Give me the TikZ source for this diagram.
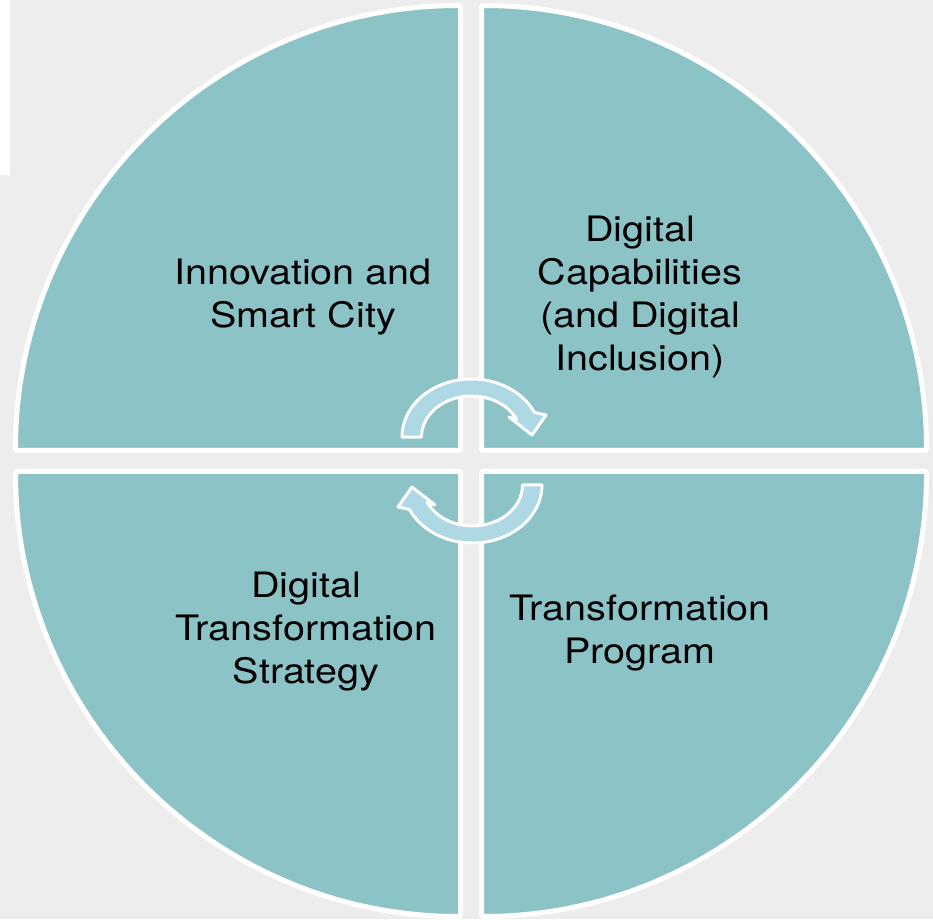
\documentclass[tikz,border=0pt]{standalone}
\usepackage{fontspec}
\setmainfont{TeX Gyre Heros}[FakeStretch=1.13]
\definecolor{bgcol}{HTML}{EDEDED}
\definecolor{quadcol}{HTML}{8CC3C6}
\definecolor{arrowcol}{HTML}{ADD8E4}
\begin{document}
\begin{tikzpicture}[x=1pt,y=1pt,
  quadrant/.style={fill=quadcol, draw=white, line width=5pt, rounded corners=2pt},
  cyclearrow/.style={fill=arrowcol, draw=white, line width=3pt, line join=round},
  quadtext/.style={align=center, inner sep=0pt, font=\fontsize{35}{43}\selectfont, text=black}]
\fill[bgcol] (0,0) rectangle (933,919);
\useasboundingbox (0,0) rectangle (933,919);
\fill[white] (0,744) rectangle (10,919);
% quadrants
\draw[quadrant] (460.5,468.5) -- ++(-445,0) arc[start angle=180,end angle=90,radius=445] -- cycle;
\draw[quadrant] (481.5,468.5) -- ++(0,445) arc[start angle=90,end angle=0,radius=445] -- cycle;
\draw[quadrant] (460.5,447.5) -- ++(0,-445) arc[start angle=270,end angle=180,radius=445] -- cycle;
\draw[quadrant] (481.5,447.5) -- ++(445,0) arc[start angle=0,end angle=-90,radius=445] -- cycle;
% cycle arrows
\path[cyclearrow] (402,482) arc[start angle=180,end angle=25,x radius=69.5,y radius=58]
  -- (546,504) -- (532,484) -- (509,502) -- (516.8,499.3)
  arc[start angle=25,end angle=180,x radius=50,y radius=41] -- cycle;
\path[cyclearrow] (542,434) arc[start angle=0,end angle=-155,x radius=69.5,y radius=58]
  -- (398,412) -- (412,432) -- (435,414) -- (427.2,416.7)
  arc[start angle=-155,end angle=0,x radius=50,y radius=41] -- cycle;
% texts
\node[quadtext] (innov) at (303,622) {Innovation and\\Smart City};
\node[quadtext] (digcap) at (640,622) {Digital\\Capabilities\\(and Digital\\Inclusion)};
\node[quadtext] (dts) at (306,287) {Digital\\Transformation\\Strategy};
\node[quadtext] (tp) at (640,285.5) {Transformation\\Program};
\end{tikzpicture}
\end{document}
